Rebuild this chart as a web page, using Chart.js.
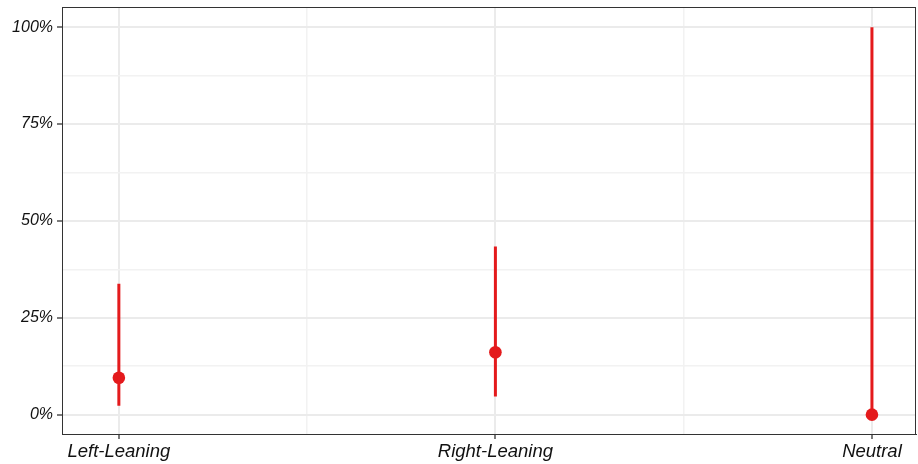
<!DOCTYPE html>
<html>
<head>
<meta charset="utf-8">
<script src="https://cdn.jsdelivr.net/npm/chart.js@4"></script>
<style>
  html, body { margin: 0; padding: 0; background: #fff; }
  #wrap { width: 918px; height: 464px; }
</style>
</head>
<body>
<div id="wrap"><canvas id="chart" width="918" height="464"></canvas></div>
<script>
// Values (percent)
const categories = ['Left-Leaning', 'Right-Leaning', 'Neutral'];
const estimates = [9.5, 16.1, 0];
const lowerBounds = [2.3, 4.7, 0];
const upperBounds = [33.8, 43.4, 100];
const yTicks = [0, 12.5, 25, 37.5, 50, 62.5, 75, 87.5, 100];
const xTicks = [1, 1.5, 2, 2.5, 3];

const red = '#E41A1C';
const family = "'Liberation Sans', Arial, sans-serif";

// Build error bar segments, separated by gaps
const segments = [];
categories.forEach((c, i) => {
    segments.push({ x: i + 1, y: lowerBounds[i] });
    segments.push({ x: i + 1, y: upperBounds[i] });
    segments.push({ x: i + 1, y: null });
});
const points = estimates.map((v, i) => ({ x: i + 1, y: v }));

// Panel border on top and right
const panelBorder = {
    id: 'panelBorder',
    afterDraw(chart) {
        const { ctx, chartArea: a } = chart;
        ctx.save();
        ctx.strokeStyle = '#333';
        ctx.lineWidth = 1;
        ctx.strokeRect(a.left + 0.5, a.top + 0.5, a.right - a.left - 1, a.bottom - a.top);
        ctx.restore();
    }
};

const ctx = document.getElementById('chart').getContext('2d');
const chart = new Chart(ctx, {
    type: 'line',
    data: {
        datasets: [
            {
                data: segments,
                borderColor: red,
                borderWidth: 3,
                pointRadius: 0,
                spanGaps: false,
                fill: false
            },
            {
                data: points,
                showLine: false,
                pointRadius: 6.3,
                pointBackgroundColor: red,
                pointBorderWidth: 0,
                pointHoverRadius: 6.3
            }
        ]
    },
    options: {
        responsive: false,
        animation: false,
        layout: { autoPadding: false, padding: { top: 7, right: 2, left: 0, bottom: 0 } },
        plugins: { legend: { display: false }, tooltip: { enabled: false } },
        scales: {
            x: {
                type: 'linear',
                min: 0.849,
                max: 3.117,
                afterBuildTicks: s => { s.ticks = xTicks.map(v => ({ value: v })); },
                afterFit: s => { s.height = 30; s.paddingLeft = 0; s.paddingRight = 0; },
                grid: {
                    color: ctx => Number.isInteger(ctx.tick.value) ? '#ebebeb' : '#f2f2f2',
                    lineWidth: ctx => Number.isInteger(ctx.tick.value) ? 2 : 1.5,
                    tickColor: ctx => Number.isInteger(ctx.tick.value) ? '#333' : 'rgba(0,0,0,0)',
                    tickWidth: 1.3,
                    tickLength: 5
                },
                border: { color: '#333', width: 1 },
                ticks: {
                    autoSkip: false,
                    maxRotation: 0,
                    padding: 2,
                    color: '#111',
                    font: { family: family, size: 18.5, style: 'italic' },
                    callback: v => Number.isInteger(v) ? categories[v - 1] : ''
                }
            },
            y: {
                min: -5,
                max: 105.2,
                afterBuildTicks: s => { s.ticks = yTicks.map(v => ({ value: v })); },
                afterFit: s => { s.width = 62; s.paddingTop = 0; s.paddingBottom = 0; },
                grid: {
                    color: ctx => ctx.tick.value % 25 === 0 ? '#ebebeb' : '#f2f2f2',
                    lineWidth: ctx => ctx.tick.value % 25 === 0 ? 2 : 1.5,
                    tickColor: ctx => ctx.tick.value % 25 === 0 ? '#333' : 'rgba(0,0,0,0)',
                    tickWidth: 1.3,
                    tickLength: 5
                },
                border: { color: '#333', width: 1 },
                ticks: {
                    autoSkip: false,
                    padding: 4,
                    color: '#111',
                    font: { family: family, size: 16, style: 'italic' },
                    callback: v => v % 25 === 0 ? v + '%' : ''
                }
            }
        }
    },
    plugins: [panelBorder]
});
</script>
</body>
</html>
